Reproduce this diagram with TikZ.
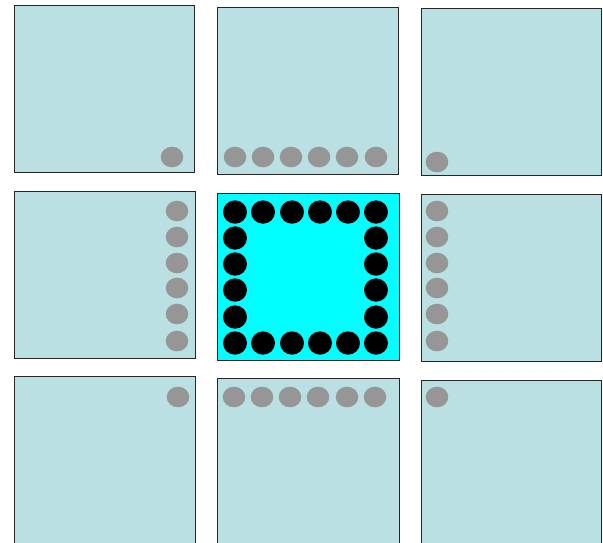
\documentclass[tikz,border=0pt]{standalone}
\begin{document}
\begin{tikzpicture}[x=1pt,y=-1pt,
  cell/.style={draw=black!85,line width=1pt,fill=cellblue},
  hub/.style={draw=black!85,line width=1pt,fill=cyan},
  gdot/.style={fill=dotgray},
  bdot/.style={fill=black}]
\definecolor{cellblue}{HTML}{BBE0E3}
\definecolor{dotgray}{HTML}{969696}
\definecolor{cyan}{HTML}{00FFFF}
\useasboundingbox (0,0) rectangle (603,542);
% cells
\path[cell] (14,5) rectangle (194,172);
\path[cell] (217,7) rectangle (398,174);
\path[cell] (421,8) rectangle (601,175);
\path[cell] (14,191) rectangle (195,358);
\path[hub]  (217,193) rectangle (399,360);
\path[cell] (421,194) rectangle (601,361);
\path[cell] (14,376) rectangle (195,560);
\path[cell] (217,378) rectangle (399,560);
\path[cell] (421,380) rectangle (601,560);
% gray dots
\fill[gdot] (172,157) ellipse (11.3 and 10.3);
\foreach \x in {235,263,291,319,347,376} \fill[gdot] (\x,157) ellipse (11.3 and 10.3);
\fill[gdot] (437,162) ellipse (11.3 and 10.3);
\foreach \y in {211,237,263,288,314,341} \fill[gdot] (177,\y) ellipse (11.3 and 10.3);
\foreach \y in {211,237,263,288,314,341} \fill[gdot] (437,\y) ellipse (11.3 and 10.3);
\fill[gdot] (178,397) ellipse (11.3 and 10.3);
\foreach \x in {234,262,290,318,347,375} \fill[gdot] (\x,397) ellipse (11.3 and 10.3);
\fill[gdot] (437,397) ellipse (11.3 and 10.3);
% black dots in centre
\foreach \x in {235,263,292,320,348,376} {
  \fill[bdot] (\x,212) ellipse (12 and 11.7);
  \fill[bdot] (\x,343) ellipse (12 and 11.7);
}
\foreach \y in {238,264,290,317} {
  \fill[bdot] (235,\y) ellipse (12 and 11.7);
  \fill[bdot] (376,\y) ellipse (12 and 11.7);
}
\end{tikzpicture}
\end{document}
